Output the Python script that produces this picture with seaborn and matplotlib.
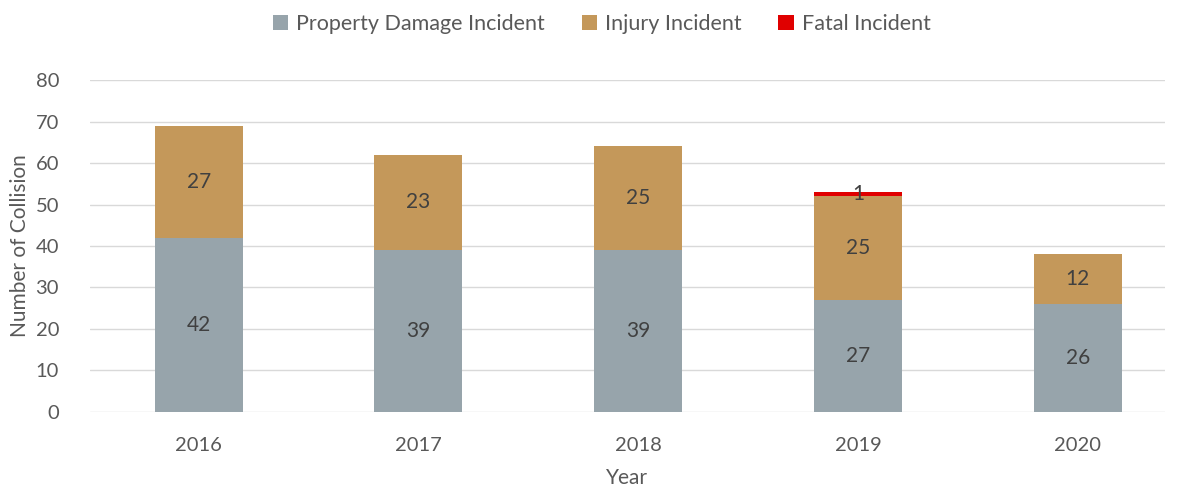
import matplotlib
matplotlib.use("Agg")
import matplotlib.pyplot as plt
import seaborn as sns
import pandas as pd
from matplotlib.patches import Patch

# Data
years = ["2016", "2017", "2018", "2019", "2020"]
property_damage = [42, 39, 39, 27, 26]
injury = [27, 23, 25, 25, 12]
fatal = [0, 0, 0, 1, 0]

series_names = ["Property Damage Incident", "Injury Incident", "Fatal Incident"]
colors = ["#97A4AB", "#C4985A", "#E00000"]
text_color = "#595959"

sns.set_style("white")
plt.rcParams["font.family"] = ["Lato", "DejaVu Sans"]

df = pd.DataFrame({
    "Year": years,
    "prop": property_damage,
    "inj": injury,
    "fat": fatal,
})
df["lvl2"] = df["prop"] + df["inj"]
df["lvl3"] = df["lvl2"] + df["fat"]

fig = plt.figure(figsize=(11.8, 4.91), dpi=100)
ax = fig.add_axes([0.076, 0.161, 0.911, 0.676])

# layered totals, drawn back to front
for col, c in zip(["lvl3", "lvl2", "prop"], colors[::-1]):
    sns.barplot(data=df, x="Year", y=col, color=c, width=0.4, saturation=1,
                linewidth=0, edgecolor="none", ax=ax, zorder=2)

# segment labels
for i in range(len(years)):
    ax.text(i, property_damage[i] / 2, str(property_damage[i]), ha="center", va="center",
            fontsize=15, color="#404040", zorder=3)
    ax.text(i, property_damage[i] + injury[i] / 2, str(injury[i]), ha="center", va="center",
            fontsize=15, color="#404040", zorder=3)
    if fatal[i] > 0:
        ax.text(i, property_damage[i] + injury[i] + fatal[i] / 2, str(fatal[i]), ha="center",
                va="center", fontsize=15, color="#404040", zorder=3)

ax.set_ylim(0, 80)
ax.set_xlim(-0.496, 4.396)
ax.set_yticks(range(0, 81, 10))
ax.yaxis.grid(True, color="#D9D9D9", linewidth=1, zorder=0)
ax.set_axisbelow(True)
for s in ax.spines.values():
    s.set_visible(False)
ax.tick_params(axis="both", length=0, labelsize=14.5, colors=text_color)
ax.tick_params(axis="y", pad=22)
ax.tick_params(axis="x", pad=18)

ax.set_xlabel("Year", fontsize=15, color=text_color, labelpad=10)
ax.set_ylabel("Number of Collision", fontsize=15, color=text_color, labelpad=4)

handles = [Patch(facecolor=c, edgecolor="none") for c in colors]
fig.legend(handles, series_names, loc="upper center", bbox_to_anchor=(0.51, 1.01), ncol=3,
           frameon=False, fontsize=15.5, handlelength=0.7, handleheight=0.7,
           handletextpad=0.4, columnspacing=1.7, labelcolor=text_color)

fig.savefig("out.png", dpi=100)
